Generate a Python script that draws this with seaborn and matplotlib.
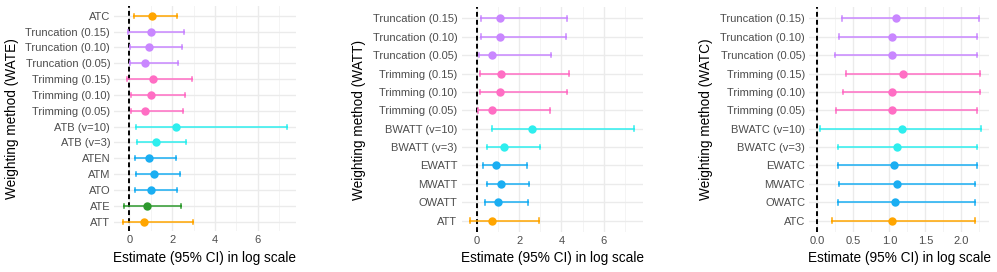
import numpy as np
import pandas as pd
import matplotlib
matplotlib.use('Agg')
import matplotlib.pyplot as plt
import seaborn as sns
from matplotlib.ticker import MultipleLocator

# Panel 1: WATE
wate_labels = ['ATC', 'Truncation (0.15)', 'Truncation (0.10)', 'Truncation (0.05)',
               'Trimming (0.15)', 'Trimming (0.10)', 'Trimming (0.05)',
               'ATB (v=10)', 'ATB (v=3)', 'ATEN', 'ATM', 'ATO', 'ATE', 'ATT']
wate_est = [1.06, 1.00, 0.93, 0.73, 1.12, 1.00, 0.72, 2.18, 1.24, 0.93, 1.14, 1.00, 0.81, 0.70]
wate_lo = [0.22, -0.06, 0.03, 0.03, -0.09, 0.06, 0.06, 0.30, 0.34, 0.25, 0.31, 0.28, -0.23, -0.31]
wate_hi = [2.21, 2.57, 2.44, 2.29, 2.91, 2.60, 2.49, 7.37, 2.63, 2.19, 2.36, 2.21, 2.41, 2.95]
wate_grp = ['ref', 'trunc', 'trunc', 'trunc', 'trim', 'trim', 'trim',
            'beta', 'beta', 'bal', 'bal', 'bal', 'ate', 'ref']

# Panel 2: WATT
watt_labels = ['Truncation (0.15)', 'Truncation (0.10)', 'Truncation (0.05)',
               'Trimming (0.15)', 'Trimming (0.10)', 'Trimming (0.05)',
               'BWATT (v=10)', 'BWATT (v=3)', 'EWATT', 'MWATT', 'OWATT', 'ATT']
watt_est = [1.12, 1.10, 0.72, 1.15, 1.12, 0.71, 2.61, 1.29, 0.93, 1.15, 1.01, 0.71]
watt_lo = [0.19, 0.19, 0.09, 0.16, 0.16, 0.05, 0.71, 0.50, 0.31, 0.47, 0.39, -0.33]
watt_hi = [4.28, 4.20, 3.53, 4.38, 4.28, 3.46, 7.45, 2.98, 2.39, 2.49, 2.41, 2.94]
watt_grp = ['trunc', 'trunc', 'trunc', 'trim', 'trim', 'trim',
            'beta', 'beta', 'bal', 'bal', 'bal', 'ref']

# Panel 3: WATC
watc_labels = ['Truncation (0.15)', 'Truncation (0.10)', 'Truncation (0.05)',
               'Trimming (0.15)', 'Trimming (0.10)', 'Trimming (0.05)',
               'BWATC (v=10)', 'BWATC (v=3)', 'EWATC', 'MWATC', 'OWATC', 'ATC']
watc_est = [1.09, 1.04, 1.04, 1.19, 1.04, 1.04, 1.17, 1.11, 1.07, 1.11, 1.08, 1.04]
watc_lo = [0.34, 0.30, 0.24, 0.39, 0.36, 0.26, 0.03, 0.28, 0.28, 0.30, 0.29, 0.20]
watc_hi = [2.24, 2.22, 2.21, 2.26, 2.26, 2.22, 2.27, 2.21, 2.22, 2.19, 2.19, 2.19]
watc_grp = watt_grp

group_colors = {'ref': '#FFA500', 'trunc': '#C987FF', 'trim': '#FF6EC4',
                'beta': '#2EEEEE', 'bal': '#1AAEF2', 'ate': '#2E9A2E'}

W, H = 997, 272
fig = plt.figure(figsize=(W / 100, H / 100), dpi=100)
plt.rcParams['font.family'] = ['Liberation Sans', 'DejaVu Sans']

# (labels, est, lo, hi, groups, y title, axes box in px, major step, y title right edge px)
panels = [
    (wate_labels, wate_est, wate_lo, wate_hi, wate_grp, 'Weighting method (WATE)', (114.4, 295.5, 6.2, 231.2), 2, 19),
    (watt_labels, watt_est, watt_lo, watt_hi, watt_grp, 'Weighting method (WATT)', (461.5, 642.7, 7.3, 231.7), 2, 366),
    (watc_labels, watc_est, watc_lo, watc_hi, watc_grp, 'Weighting method (WATC)', (809.3, 989.0, 7.3, 231.7), 0.5, 713),
]

for labels, est, lo, hi, grp, ylab, (l, r, t, b), major, ylab_x in panels:
    ax = fig.add_axes([l / W, 1 - b / H, (r - l) / W, (b - t) / H])
    # long format: lo / est / hi per method; median = estimate, min/max = CI
    df = pd.DataFrame({
        'method': np.repeat(labels, 3),
        'value': np.column_stack([lo, est, hi]).ravel(),
    })
    palette = {m: group_colors[g] for m, g in zip(labels, grp)}
    n = len(labels)
    ax.set_axisbelow(True)
    ax.axvline(0, color='black', linestyle=(0, (2.5, 1.6)), linewidth=1.4, zorder=1)
    sns.pointplot(data=df, x='value', y='method', hue='method', order=labels,
                  hue_order=labels, palette=palette, estimator='median',
                  errorbar=lambda v: (v.min(), v.max()), capsize=0.25,
                  err_kws={'linewidth': 1.1}, markersize=4, linestyle='none',
                  legend=False, dodge=False, ax=ax, zorder=3)
    lo_x = min(min(lo), 0)
    hi_x = max(hi)
    pad = 0.05 * (hi_x - lo_x)
    ax.set_xlim(lo_x - pad, hi_x + pad)
    ax.set_ylim(n - 1 + 0.6, -0.6)
    ax.xaxis.set_major_locator(MultipleLocator(major))
    ax.xaxis.set_minor_locator(MultipleLocator(major / 2))
    if major == 0.5:
        ax.set_xticks([0.0, 0.5, 1.0, 1.5, 2.0])
        ax.set_xticklabels(['0.0', '0.5', '1.0', '1.5', '2.0'])
    ax.grid(which='major', axis='both', color='#EBEBEB', linewidth=1.0)
    ax.grid(which='minor', axis='x', color='#F2F2F2', linewidth=0.6)
    for s in ax.spines.values():
        s.set_visible(False)
    ax.tick_params(axis='both', which='both', length=0, labelsize=8.0,
                   labelcolor='#4D4D4D', pad=3)
    ax.set_xlabel('Estimate (95% CI) in log scale', fontsize=9.8, labelpad=4)
    ax.set_ylabel(ylab, fontsize=9.8)
    ax.yaxis.set_label_coords((ylab_x - l) / (r - l), 0.5)

fig.savefig('out.png', dpi=100, facecolor='white')
